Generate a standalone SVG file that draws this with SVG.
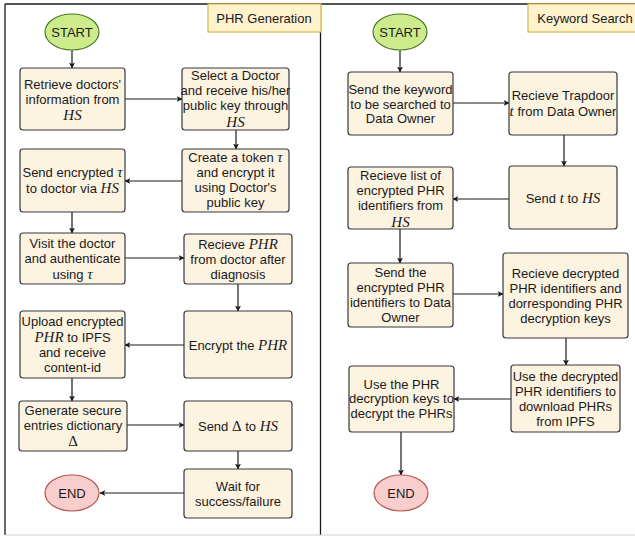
<svg xmlns="http://www.w3.org/2000/svg" width="635" height="536" viewBox="0 0 635 536">
  <style>
    .panel { fill: none; stroke: #1a1a1a; stroke-width: 1.3; }
    .tag { fill: #fff2cc; stroke: #d6b656; stroke-width: 1.2; }
    .box { fill: #fdf3e1; stroke: #36393d; stroke-width: 1.2; }
    .start { fill: #cdeb8b; stroke: #4d7a2a; stroke-width: 1.2; }
    .end { fill: #f8cecc; stroke: #b85450; stroke-width: 1.2; }
    .edge { fill: none; stroke: #1a1a1a; stroke-width: 1.2; marker-end: url(#arrow); }
    text { font-family: "Liberation Sans", Arial, sans-serif; font-size: 13px; fill: #1a1a1a; text-anchor: middle; }
    .m { font-family: "Liberation Serif", "DejaVu Serif", serif; font-style: italic; font-size: 15px; }
    .g { font-family: "Liberation Serif", "DejaVu Serif", serif; font-size: 15px; }
  </style>
  <defs>
    <marker id="arrow" viewBox="0 0 10 10" refX="9" refY="5" markerWidth="6" markerHeight="6" markerUnits="userSpaceOnUse" orient="auto">
      <path d="M0,0 L10,5 L0,10 L2.5,5 Z" fill="#1a1a1a"/>
    </marker>
  </defs>

  <rect width="635" height="536" fill="#ffffff"/>

  <!-- panels -->
  <g id="panels">
    <line class="panel" x1="5" y1="4" x2="640" y2="4"/>
    <line class="panel" x1="5" y1="4" x2="5" y2="535"/>
    <line class="panel" x1="320.5" y1="4" x2="320.5" y2="535"/>
    <line x1="5" y1="535" x2="635" y2="535" stroke="#d0d0d0" stroke-width="1"/>
    <rect class="tag" x="208" y="4" width="113" height="28"/>
    <text x="264" y="23">PHR Generation</text>
    <rect class="tag" x="528" y="4" width="112" height="28"/>
    <text x="585" y="23">Keyword Search</text>
  </g>

  <!-- connectors -->
  <g id="connectors">
    <line class="edge" x1="72" y1="50" x2="72" y2="68"/>
    <line class="edge" x1="125" y1="99" x2="182" y2="99"/>
    <line class="edge" x1="236" y1="130" x2="236" y2="149"/>
    <line class="edge" x1="182" y1="181" x2="125" y2="181"/>
    <line class="edge" x1="72" y1="212" x2="72" y2="233"/>
    <line class="edge" x1="125" y1="258" x2="184" y2="258"/>
    <line class="edge" x1="238" y1="284" x2="238" y2="311"/>
    <line class="edge" x1="184" y1="345" x2="125" y2="345"/>
    <line class="edge" x1="72" y1="378" x2="72" y2="401"/>
    <line class="edge" x1="127" y1="425" x2="184" y2="425"/>
    <line class="edge" x1="238" y1="451" x2="238" y2="469"/>
    <line class="edge" x1="184" y1="493" x2="100" y2="493"/>

    <line class="edge" x1="400" y1="50" x2="400" y2="72"/>
    <line class="edge" x1="453" y1="103" x2="509" y2="103"/>
    <line class="edge" x1="564" y1="135" x2="564" y2="166"/>
    <line class="edge" x1="509" y1="199" x2="453" y2="199"/>
    <line class="edge" x1="400" y1="229" x2="400" y2="263"/>
    <line class="edge" x1="453" y1="294" x2="503" y2="294"/>
    <line class="edge" x1="566" y1="338" x2="566" y2="365"/>
    <line class="edge" x1="511" y1="399" x2="454" y2="399"/>
    <line class="edge" x1="401" y1="432" x2="401" y2="475"/>
  </g>

  <!-- PHR generation flow -->
  <g id="start1">
    <ellipse class="start" cx="72" cy="32" rx="27" ry="18"/>
    <text x="72" y="37">START</text>
  </g>
  <g id="retrieve">
    <rect class="box" x="20" y="68" width="105" height="62" rx="3"/>
    <text x="72.5" y="89">Retrieve doctors'</text>
    <text x="72.5" y="103.5">information from</text>
    <text class="m" x="72.5" y="119.5">HS</text>
  </g>
  <g id="select">
    <rect class="box" x="182" y="68" width="107" height="62" rx="3"/>
    <text x="235.5" y="80">Select a Doctor</text>
    <text x="235.5" y="95">and receive his/her</text>
    <text x="235.5" y="110">public key through</text>
    <text class="m" x="235.5" y="126.5">HS</text>
  </g>
  <g id="token">
    <rect class="box" x="182" y="149" width="107" height="63" rx="3"/>
    <text x="235.5" y="161.5">Create a token <tspan class="m">τ</tspan></text>
    <text x="235.5" y="177">and encrypt it</text>
    <text x="235.5" y="192">using Doctor's</text>
    <text x="235.5" y="206.5">public key</text>
  </g>
  <g id="send-token">
    <rect class="box" x="20" y="149" width="105" height="63" rx="3"/>
    <text x="72.5" y="176.5">Send encrypted <tspan class="m">τ</tspan></text>
    <text x="72.5" y="192.5">to doctor via <tspan class="m">HS</tspan></text>
  </g>
  <g id="visit">
    <rect class="box" x="20" y="233" width="105" height="51" rx="3"/>
    <text x="72.5" y="248">Visit the doctor</text>
    <text x="72.5" y="262.5">and authenticate</text>
    <text x="72.5" y="278.5">using <tspan class="m">τ</tspan></text>
  </g>
  <g id="receive-phr">
    <rect class="box" x="184" y="234" width="108" height="50" rx="3"/>
    <text x="238" y="248.5">Recieve <tspan class="m">PHR</tspan></text>
    <text x="238" y="264">from doctor after</text>
    <text x="238" y="278.5">diagnosis</text>
  </g>
  <g id="encrypt">
    <rect class="box" x="184" y="311" width="108" height="67" rx="3"/>
    <text x="238" y="350">Encrypt the <tspan class="m">PHR</tspan></text>
  </g>
  <g id="upload">
    <rect class="box" x="20" y="311" width="105" height="67" rx="3"/>
    <text x="72.5" y="326">Upload encrypted</text>
    <text x="72.5" y="342"><tspan class="m">PHR</tspan> to IPFS</text>
    <text x="72.5" y="357">and receive</text>
    <text x="72.5" y="371.5">content-id</text>
  </g>
  <g id="generate">
    <rect class="box" x="19" y="401" width="108" height="50" rx="3"/>
    <text x="73" y="415">Generate secure</text>
    <text x="73" y="430">entries dictionary</text>
    <text class="g" x="73" y="446">Δ</text>
  </g>
  <g id="send-delta">
    <rect class="box" x="184" y="401" width="108" height="50" rx="3"/>
    <text x="238" y="430.5">Send <tspan class="g">Δ</tspan> to <tspan class="m">HS</tspan></text>
  </g>
  <g id="wait">
    <rect class="box" x="184" y="469" width="108" height="49" rx="3"/>
    <text x="238" y="490.5">Wait for</text>
    <text x="238" y="505.5">success/failure</text>
  </g>
  <g id="end1">
    <ellipse class="end" cx="72" cy="493" rx="27" ry="18"/>
    <text x="72" y="498">END</text>
  </g>

  <!-- keyword search flow -->
  <g id="start2">
    <ellipse class="start" cx="400" cy="32" rx="27" ry="18"/>
    <text x="400" y="37">START</text>
  </g>
  <g id="send-keyword">
    <rect class="box" x="348" y="72" width="105" height="63" rx="3"/>
    <text x="400.5" y="93.5">Send the keyword</text>
    <text x="400.5" y="108.5">to be searched to</text>
    <text x="400.5" y="122.5">Data Owner</text>
  </g>
  <g id="trapdoor">
    <rect class="box" x="509" y="72" width="108" height="63" rx="3"/>
    <text x="563" y="100">Recieve Trapdoor</text>
    <text x="563" y="116"><tspan class="m">t</tspan> from Data Owner</text>
  </g>
  <g id="send-t">
    <rect class="box" x="509" y="166" width="108" height="63" rx="3"/>
    <text x="563" y="203">Send <tspan class="m">t</tspan> to <tspan class="m">HS</tspan></text>
  </g>
  <g id="receive-list">
    <rect class="box" x="348" y="167" width="105" height="62" rx="3"/>
    <text x="400.5" y="179.5">Recieve list of</text>
    <text x="400.5" y="195">encrypted PHR</text>
    <text x="400.5" y="210">identifiers from</text>
    <text class="m" x="400.5" y="226.5">HS</text>
  </g>
  <g id="send-ids">
    <rect class="box" x="348" y="263" width="105" height="64" rx="3"/>
    <text x="400.5" y="276.5">Send the</text>
    <text x="400.5" y="292">encrypted PHR</text>
    <text x="400.5" y="307">identifiers to Data</text>
    <text x="400.5" y="321.5">Owner</text>
  </g>
  <g id="receive-keys">
    <rect class="box" x="503" y="253" width="125" height="85" rx="3"/>
    <text x="565.5" y="277.5">Recieve decrypted</text>
    <text x="565.5" y="292.5">PHR identifiers and</text>
    <text x="565.5" y="307.5">dorresponding PHR</text>
    <text x="565.5" y="322.5">decryption keys</text>
  </g>
  <g id="download">
    <rect class="box" x="511" y="365" width="109" height="67" rx="3"/>
    <text x="565.5" y="380.5">Use the decrypted</text>
    <text x="565.5" y="395.5">PHR identifiers to</text>
    <text x="565.5" y="410.5">download PHRs</text>
    <text x="565.5" y="425.5">from IPFS</text>
  </g>
  <g id="decrypt">
    <rect class="box" x="349" y="366" width="105" height="66" rx="3"/>
    <text x="401.5" y="388.5">Use the PHR</text>
    <text x="401.5" y="402.5">decryption keys to</text>
    <text x="401.5" y="417.5">decrypt the PHRs</text>
  </g>
  <g id="end2">
    <ellipse class="end" cx="401" cy="493" rx="27" ry="18"/>
    <text x="401" y="498">END</text>
  </g>
</svg>
